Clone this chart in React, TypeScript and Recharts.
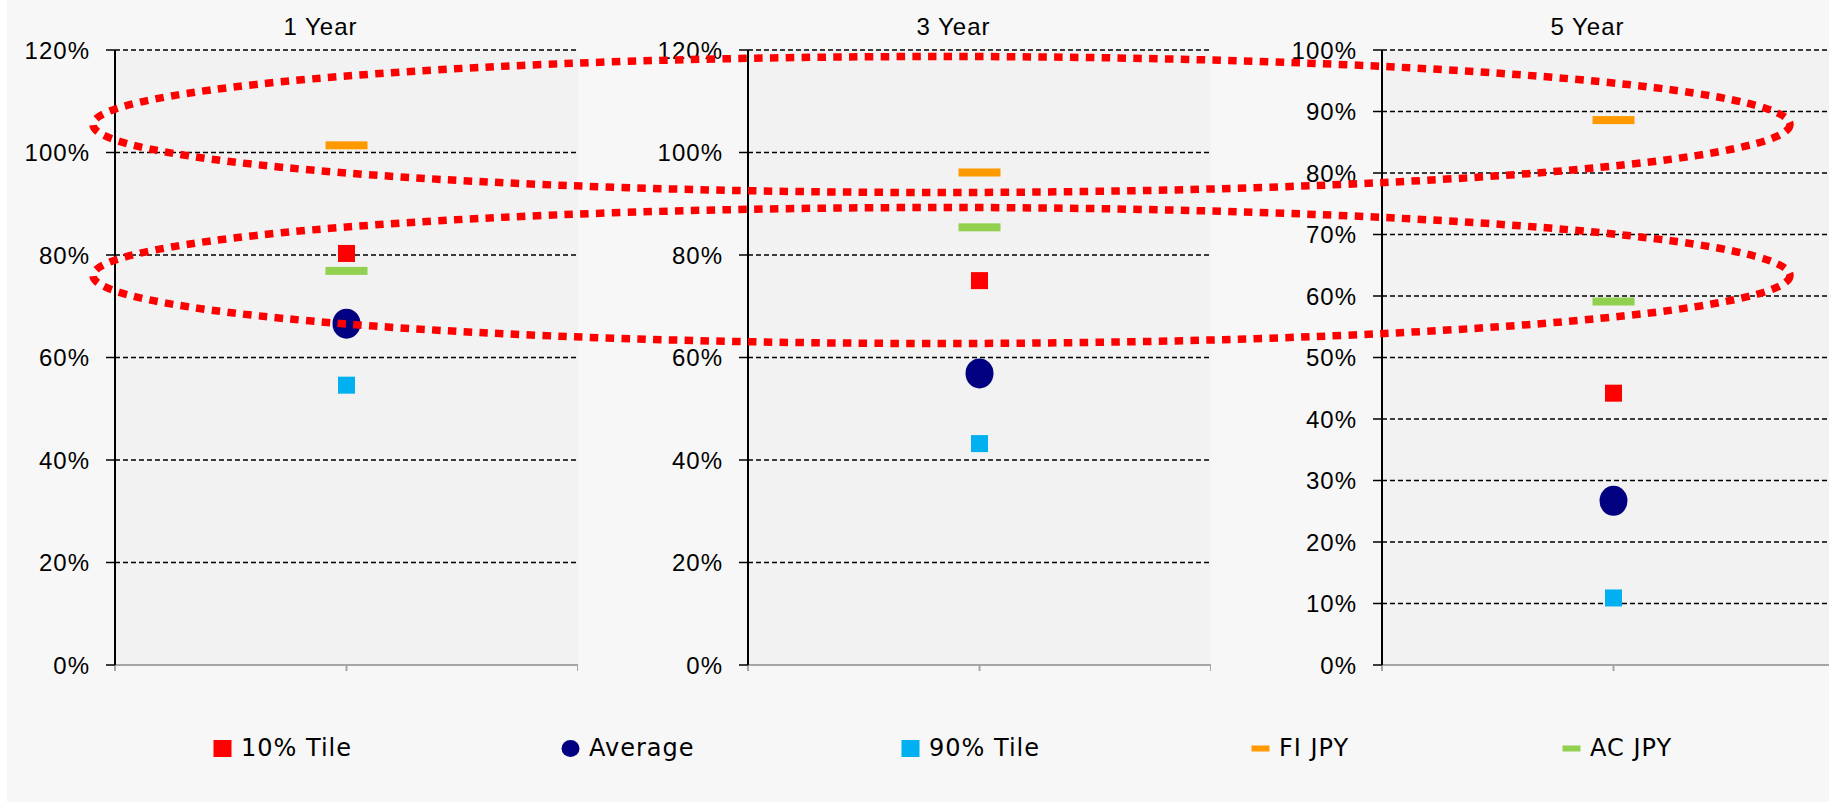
import { CartesianGrid, Scatter, ScatterChart, XAxis, YAxis } from 'recharts'

const PERIODS = ['1 Year', '3 Year', '5 Year']
const TILE_10 = [0.803, 0.75, 0.442]
const AVERAGE = [0.666, 0.569, 0.267]
const TILE_90 = [0.546, 0.432, 0.109]
const FI_JPY = [1.014, 0.961, 0.886]
const AC_JPY = [0.769, 0.854, 0.591]
const Y_MAX = [1.2, 1.2, 1.0]
const Y_TICKS = [
    [0, 0.2, 0.4, 0.6, 0.8, 1.0, 1.2],
    [0, 0.2, 0.4, 0.6, 0.8, 1.0, 1.2],
    [0, 0.1, 0.2, 0.3, 0.4, 0.5, 0.6, 0.7, 0.8, 0.9, 1.0],
]

type Marker = 'square' | 'circle' | 'dash'

const SERIES: { name: string; values: number[]; color: string; marker: Marker }[] = [
    { name: '10% Tile', values: TILE_10, color: '#ff0000', marker: 'square' },
    { name: 'Average', values: AVERAGE, color: '#000080', marker: 'circle' },
    { name: '90% Tile', values: TILE_90, color: '#00b0f0', marker: 'square' },
    { name: 'FI JPY', values: FI_JPY, color: '#ff9900', marker: 'dash' },
    { name: 'AC JPY', values: AC_JPY, color: '#92d050', marker: 'dash' },
]

// layout
const AXIS_W = 115
const PLOT_W = 463
const PLOT_H = 615
const TOP = 50
const PANEL_LEFT = [0, 633, 1267]
const LEGEND_LEFT = [213, 561, 901, 1251, 1562]
const TICK_FONT = { fill: '#000', fontSize: 24, fontFamily: '"Liberation Sans", Arial, sans-serif' }

const drawMarker = (marker: Marker, color: string) => (props: any) => {
    const { cx, cy } = props
    if (marker === 'circle') return <ellipse cx={cx} cy={cy} rx={14} ry={15} fill={color} />
    if (marker === 'dash') return <rect x={cx - 21} y={cy - 4} width={42} height={8} fill={color} />
    return <rect x={cx - 8.5} y={cy - 8.5} width={17} height={17} fill={color} />
}

const LegendIcon = ({ marker, color }: { marker: Marker; color: string }) => (
    <svg width={19} height={17} style={{ display: 'block' }}>
        {marker === 'circle' && <ellipse cx={9.5} cy={8.5} rx={9} ry={8.5} fill={color} />}
        {marker === 'square' && <rect x={0.5} y={0} width={18} height={17} fill={color} />}
        {marker === 'dash' && <rect x={0.5} y={5.5} width={18} height={6} fill={color} />}
    </svg>
)

const Panel = ({ idx }: { idx: number }) => (
    <div style={{ position: 'absolute', left: PANEL_LEFT[idx], top: 0 }}>
        <ScatterChart
            width={AXIS_W + PLOT_W}
            height={TOP + PLOT_H + 20}
            margin={{ top: TOP, right: 0, bottom: 0, left: 0 }}
        >
            <CartesianGrid vertical={false} fill="#f2f2f2" stroke="#000" strokeWidth={1.4} strokeDasharray="5 3" />
            <XAxis
                type="number"
                dataKey="x"
                domain={[0, 2]}
                ticks={[0, 1, 2]}
                tickFormatter={() => ''}
                height={20}
                tickSize={6}
                axisLine={{ stroke: '#a6a6a6', strokeWidth: 2 }}
                tickLine={{ stroke: '#a6a6a6', strokeWidth: 2 }}
            />
            <YAxis
                type="number"
                dataKey="y"
                domain={[0, Y_MAX[idx]]}
                ticks={Y_TICKS[idx]}
                tickFormatter={(v: number) => `${Math.round(v * 100)}%`}
                width={AXIS_W}
                tickSize={9}
                tickMargin={16}
                tick={{ ...TICK_FONT, letterSpacing: 1 }}
                axisLine={{ stroke: '#000', strokeWidth: 2 }}
                tickLine={{ stroke: '#000', strokeWidth: 1.5 }}
            />
            {SERIES.map((s) => (
                <Scatter
                    key={s.name}
                    name={s.name}
                    data={[{ x: 1, y: s.values[idx] }]}
                    shape={drawMarker(s.marker, s.color)}
                    isAnimationActive={false}
                />
            ))}
        </ScatterChart>
    </div>
)

const App = () => {
    return (
        <div
            style={{
                position: 'absolute',
                left: 0,
                top: 0,
                width: 1829,
                height: 803,
                overflow: 'hidden',
                background: '#ffffff',
            }}
        >
            <div style={{ position: 'absolute', left: 7, top: 0, right: 0, bottom: 1, background: '#f7f7f7' }} />
            {PERIODS.map((p, i) => (
                <Panel key={p} idx={i} />
            ))}

            {/* legend */}
            {SERIES.map((s, i) => (
                <div
                    key={s.name}
                    style={{
                        position: 'absolute',
                        left: LEGEND_LEFT[i],
                        top: 734,
                        height: 28,
                        display: 'flex',
                        alignItems: 'center',
                        fontFamily: '"DejaVu Sans", Verdana, sans-serif',
                        fontSize: 24,
                        letterSpacing: 1,
                        color: '#000',
                        whiteSpace: 'nowrap',
                    }}
                >
                    <LegendIcon marker={s.marker} color={s.color} />
                    <span style={{ marginLeft: 9 }}>{s.name}</span>
                </div>
            ))}

            {/* titles + hand-drawn highlight ellipses */}
            <svg
                width={1829}
                height={803}
                style={{ position: 'absolute', left: 0, top: 0, pointerEvents: 'none' }}
            >
                {PERIODS.map((p, i) => (
                    <text
                        key={p}
                        x={PANEL_LEFT[i] + AXIS_W + PLOT_W / 2 - 26}
                        y={35}
                        textAnchor="middle"
                        fontSize={24}
                        fontFamily='"Liberation Sans", Arial, sans-serif'
                        letterSpacing={1}
                        fill="#000"
                    >
                        {p}
                    </text>
                ))}
                <ellipse cx={941.5} cy={124.5} rx={848.5} ry={68} fill="none" stroke="#ff0000" strokeWidth={7.5} strokeDasharray="8.5 7.3" />
                <ellipse cx={941.5} cy={275.5} rx={848.5} ry={68} fill="none" stroke="#ff0000" strokeWidth={7.5} strokeDasharray="8.5 7.3" />
            </svg>
        </div>
    )
}

export default App
